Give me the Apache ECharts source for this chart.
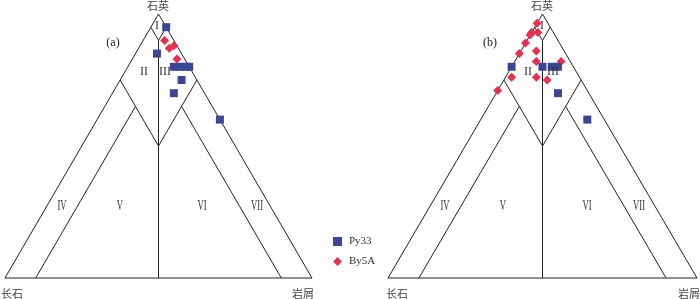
<!DOCTYPE html>
<html>
<head>
<meta charset="utf-8">
<script src="https://cdn.jsdelivr.net/npm/echarts@6/dist/echarts.min.js"></script>
<style>
html,body{margin:0;padding:0;background:#fff;}
#chart{width:700px;height:299px;}
</style>
</head>
<body>
<div id="chart"></div>
<script>
// Ternary data: [Q(石英), F(长石), L(岩屑)] in percent
const py33_a = [[95,0,5],[85,8,7],[80,5,15],[80,3,17],[80,1,19],[80,0,20],[75,5,20],[70,10,20],[60,0,40]];
const by5a_a = [[90,3,7],[87,3,10],[88,1,11],[83,2.5,14.5]];
const py33_b = [[80,20,0],[80,10,10],[80,7,13],[80,5,15],[70,10,20],[60,5.5,34.5]];
const by5a_b = [[96.5,3.5,0],[93,7,0],[93,5,2],[92,8,0],[89,11,0],[85,15,0],[86,9,5],[82,11,7],[82,3,15],[76,22,2],[76,14,10],[75,11,14],[71,29,0]];

// Classification boundaries (Q,F,L end points)
const outline = [[100,0,0],[0,100,0],[0,0,100],[100,0,0]];
const boundaries = [
  [[95,5,0],[90,5,5]],
  [[95,0,5],[90,5,5]],
  [[75,25,0],[50,25,25]],
  [[75,0,25],[50,25,25]],
  [[90,5,5],[0,50,50]],
  [[65,25,10],[0,90,10]],
  [[65,10,25],[0,10,90]]
];
const regionLabels = ['I','II','III','IV','V','VI','VII'];
const apexLabels = ['石英','长石','岩屑'];
const seriesNames = ['Py33','By5A'];
const panelTags = ['(a)','(b)'];

function toXY(p){ return [p[2] + p[0]/2, p[0]]; }

const grids = [
  {left:5, top:14, width:307, height:264},
  {left:388, top:14, width:309, height:264}
];
const lineColor = '#222';
const cnFont = '"Noto Sans CJK SC", sans-serif';
const enFont = '"Liberation Serif", "DejaVu Serif", serif';

const series = [];
function addPanel(idx, py, by){
  series.push({type:'line', xAxisIndex:idx, yAxisIndex:idx, data:outline.map(toXY), symbol:'none', silent:true, clip:false,
    lineStyle:{color:lineColor, width:1}, z:1});
  boundaries.forEach(seg=>{
    series.push({type:'line', xAxisIndex:idx, yAxisIndex:idx, data:seg.map(toXY), symbol:'none', silent:true, clip:false,
      lineStyle:{color:lineColor, width:1}, z:1});
  });
  series.push({name:seriesNames[1], type:'scatter', xAxisIndex:idx, yAxisIndex:idx, data:by.map(toXY), symbol:'diamond', symbolSize:9, clip:false,
    itemStyle:{color:'#e8304c', opacity:1}, z:3});
  series.push({name:seriesNames[0], type:'scatter', xAxisIndex:idx, yAxisIndex:idx, data:py.map(toXY), symbol:'rect', symbolSize:8, clip:false,
    itemStyle:{color:'#3c4696', opacity:1}, z:4});
}
addPanel(0, py33_a, by5a_a);
addPanel(1, py33_b, by5a_b);

function txt(s, x, y, font, size, color, sx){
  return {type:'text', x:x, y:y, scaleX:sx||1, style:{text:s, x:0, y:0, align:'center', verticalAlign:'middle', fill:color||'#333', font: size+'px '+font}, z:10};
}
const g = [];
// label positions (pixel layout)
const lay = [
  {top:[158,6], tag:[113,43], F:[12,294], L:[303,294],
   reg:[[157,26],[144,72],[165,72],[62,206],[120,206],[202,206],[257,206]]},
  {top:[542,6], tag:[490,43], F:[397,294], L:[689,294],
   reg:[[542,26],[528,72],[553,72],[445,206],[503,206],[587,206],[639,206]]}
];
lay.forEach((p,i)=>{
  g.push(txt(apexLabels[0], p.top[0], p.top[1], cnFont, 11, '#444'));
  g.push(txt(apexLabels[1], p.F[0], p.F[1], cnFont, 11, '#444'));
  g.push(txt(apexLabels[2], p.L[0], p.L[1], cnFont, 11, '#444'));
  g.push(txt(panelTags[i], p.tag[0], p.tag[1], enFont, 12, '#222'));
  regionLabels.forEach((r,j)=>{
    if (j>=3) g.push(txt(r, p.reg[j][0], p.reg[j][1], enFont, 14, '#333', 0.62));
    else g.push(txt(r, p.reg[j][0], p.reg[j][1], enFont, 12, '#333'));
  });
});

const chart = echarts.init(document.getElementById('chart'), null, {renderer:'canvas'});
chart.setOption({
  animation:false,
  backgroundColor:'#fff',
  grid: grids,
  xAxis: grids.map((_,i)=>({type:'value', gridIndex:i, min:0, max:100, show:false})),
  yAxis: grids.map((_,i)=>({type:'value', gridIndex:i, min:0, max:100, show:false})),
  legend:{
    data:[{name:seriesNames[0], icon:'rect'},{name:seriesNames[1], icon:'diamond'}],
    orient:'vertical', left:328, top:231, itemWidth:9, itemHeight:9, itemGap:9,
    textStyle:{fontFamily:enFont, fontSize:11, color:'#333', padding:[0,0,0,2]}
  },
  graphic: g,
  series: series
});
</script>
</body>
</html>
